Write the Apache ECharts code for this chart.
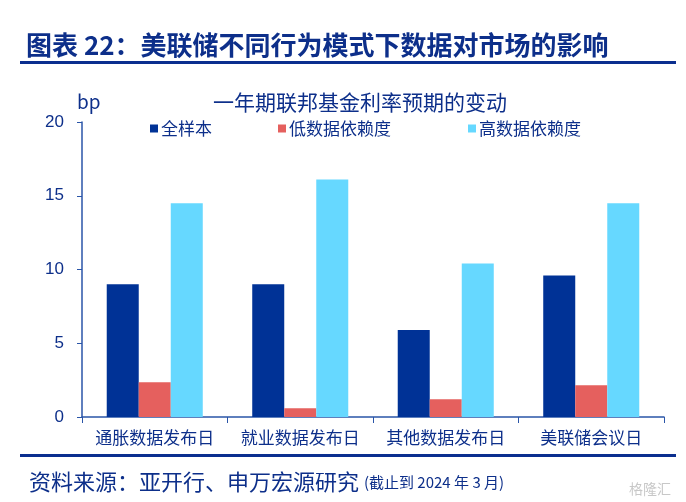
<!DOCTYPE html>
<html>
<head>
<meta charset="utf-8">
<script src="https://cdn.jsdelivr.net/npm/echarts@6/dist/echarts.min.js"></script>
<style>
  html, body { margin: 0; padding: 0; background: #fff; }
  #chart { width: 686px; height: 502px; }
</style>
</head>
<body>
<div id="chart"></div>
<script>
// 数据
var categories = ['通胀数据发布日', '就业数据发布日', '其他数据发布日', '美联储会议日'];
var seriesNames = ['全样本', '低数据依赖度', '高数据依赖度'];
var fullSample = [9.0, 9.0, 5.9, 9.6];
var lowDependence = [2.35, 0.6, 1.2, 2.15];
var highDependence = [14.5, 16.1, 10.4, 14.5];
var yTicks = [0, 5, 10, 15, 20];

var colors = ['#003296', '#e5605e', '#66d8ff'];
var navy = '#0d2f8a';
var font = '"Noto Sans CJK SC", "Liberation Sans", sans-serif';

var chart = echarts.init(document.getElementById('chart'));

var option = {
  animation: false,
  textStyle: { fontFamily: font },
  title: [
    {
      text: '图表 22：美联储不同行为模式下数据对市场的影响',
      left: 21, top: 27,
      textStyle: { fontSize: 26, fontWeight: 'bold', color: navy, fontFamily: font }
    },
    {
      text: '一年期联邦基金利率预期的变动',
      left: 355, top: 87, textAlign: 'center',
      textStyle: { fontSize: 21, fontWeight: 'normal', color: navy, fontFamily: font }
    },
    {
      text: 'bp',
      left: 72, top: 87,
      textStyle: { fontSize: 19, fontWeight: 'normal', color: navy, fontFamily: font }
    },
    {
      text: '资料来源：亚开行、申万宏源研究 {s|(截止到 2024 年 3 月)}',
      left: 24, top: 466,
      textStyle: {
        fontSize: 22, fontWeight: 'normal', color: navy, fontFamily: font,
        rich: { s: { fontSize: 15, color: navy, fontFamily: font } }
      }
    },
    {
      text: '格隆汇',
      right: 10, top: 477,
      textStyle: { fontSize: 14, fontWeight: 'normal', color: '#c8c8c8', fontFamily: font }
    }
  ],
  graphic: [
    { type: 'rect', shape: { x: 20, y: 61, width: 656, height: 3 }, style: { fill: '#0b2f8f' } },
    { type: 'rect', shape: { x: 20, y: 454, width: 656, height: 3 }, style: { fill: '#0b2f8f' } }
  ],
  legend: [
    { data: [seriesNames[0]], left: 145, top: 115 },
    { data: [seriesNames[1]], left: 273, top: 115 },
    { data: [seriesNames[2]], left: 463, top: 115 }
  ].map(function (l) {
    l.itemWidth = 8; l.itemHeight = 8; l.itemGap = 0;
    l.icon = 'rect';
    l.textStyle = { fontSize: 17, color: navy, fontFamily: font, padding: [0, 0, 0, -2] };
    return l;
  }),
  grid: { left: 82, right: 22, top: 122, bottom: 85 },
  xAxis: {
    type: 'category',
    data: categories,
    axisLine: { lineStyle: { color: '#2a55a8', width: 1.5 } },
    axisTick: { show: true, alignWithLabel: false, length: 6, lineStyle: { color: '#2a55a8' } },
    axisLabel: { interval: 0, fontSize: 17, color: navy, margin: 12, fontFamily: font }
  },
  yAxis: {
    type: 'value',
    min: yTicks[0], max: yTicks[yTicks.length - 1], interval: 5,
    axisLine: { show: true, lineStyle: { color: '#2a55a8', width: 1.5 } },
    axisTick: { show: true, length: 5, lineStyle: { color: '#2a55a8' } },
    splitLine: { show: false },
    axisLabel: { fontSize: 17, color: navy, margin: 18, fontFamily: 'Liberation Sans, sans-serif' }
  },
  series: [
    { name: seriesNames[0], type: 'bar', data: fullSample, itemStyle: { color: colors[0] }, barGap: '0%', barCategoryGap: '34%' },
    { name: seriesNames[1], type: 'bar', data: lowDependence, itemStyle: { color: colors[1] } },
    { name: seriesNames[2], type: 'bar', data: highDependence, itemStyle: { color: colors[2] } }
  ]
};

chart.setOption(option);
</script>
</body>
</html>
